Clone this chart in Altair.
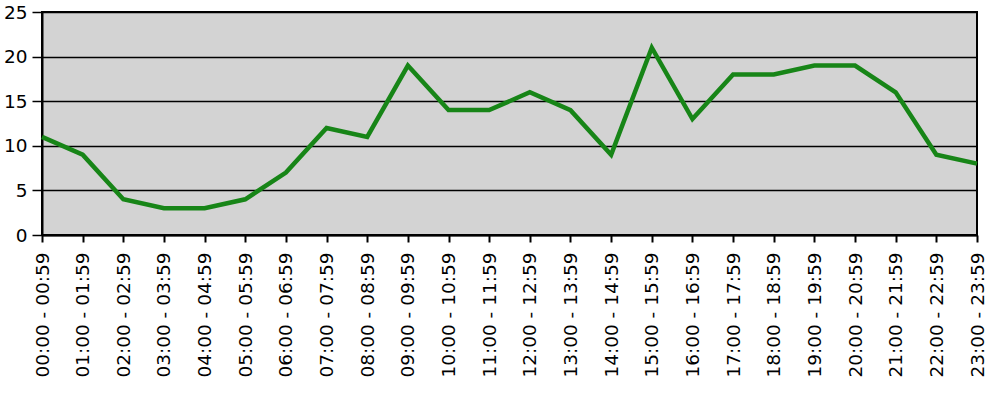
import altair as alt
import pandas as pd

hours = [f"{h:02d}:00 - {h:02d}:59" for h in range(24)]
values = [11, 9, 4, 3, 3, 4, 7, 12, 11, 19, 14, 14, 16, 14, 9, 21, 13, 18, 18, 19, 19, 16, 9, 8]

df = pd.DataFrame({"hour": hours, "value": values})

chart = alt.Chart(df).mark_line(color="#178517", strokeWidth=4.5, strokeJoin="miter").encode(
    x=alt.X("hour:N", sort=hours, scale=alt.Scale(type="point", padding=0),
            axis=alt.Axis(title=None, labelAngle=270, labelAlign="right", labelBaseline="middle",
                          labelFontSize=18.5, labelColor="black", labelFont="DejaVu Sans",
                          tickSize=7, tickColor="black", tickWidth=2, domainColor="black",
                          domainWidth=2, labelPadding=10, grid=False)),
    y=alt.Y("value:Q", scale=alt.Scale(domain=[0, 25], nice=False),
            axis=alt.Axis(title=None, values=[0, 5, 10, 15, 20, 25], labelFontSize=18.5,
                          labelColor="black", labelFont="DejaVu Sans", tickSize=10,
                          tickColor="black", tickWidth=1.5, domainColor="black", domainWidth=2,
                          gridColor="black", gridWidth=1.5, gridOpacity=1, labelPadding=5)),
).properties(
    width=935, height=223,
    padding={"left": 42, "top": 12, "right": 9, "bottom": 160},
    autosize=alt.AutoSizeParams(type="none"),
).configure_view(
    fill="#D3D3D3", stroke="black", strokeWidth=2
)

chart.save("out.html", embed_options={"renderer": "svg", "actions": False})
